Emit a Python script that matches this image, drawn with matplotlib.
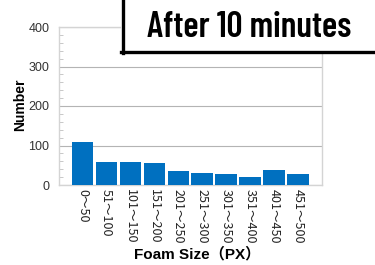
import matplotlib
matplotlib.use("Agg")
import matplotlib.pyplot as plt
from matplotlib.patches import Rectangle
from matplotlib.ticker import MultipleLocator

categories = ["0～50", "51～100", "101～150", "151～200", "201～250",
              "251～300", "301～350", "351～400", "401～450", "451～500"]
values = [108, 59, 57, 56, 35, 31, 29, 20, 37, 28]
yticks = [0, 100, 200, 300, 400]
title = "After 10 minutes"

plt.rcParams['font.family'] = ['Liberation Sans', 'Noto Sans CJK JP', 'DejaVu Sans']

fig = plt.figure(figsize=(3.75, 2.65), dpi=100)
ax = fig.add_axes([59/375, 1-185/265, (322-59)/375, (185-27)/265])

x = list(range(len(categories)))
ax.bar(x, values, width=0.9, color="#0070C0", zorder=3)
ax.set_xlim(-0.98, 10.0)
ax.set_ylim(0, 400)
ax.set_yticks(yticks)
ax.yaxis.set_minor_locator(MultipleLocator(20))
ax.grid(axis='y', color="#b4b4b4", linewidth=0.8, zorder=0)
for s in ax.spines.values():
    s.set_color("#d4d4d4")
    s.set_linewidth(1.0)
ax.tick_params(axis='y', which='major', length=0, labelsize=9, colors="#333333", pad=7)
ax.tick_params(axis='y', which='minor', direction='in', length=3, color="#c8c8c8", width=0.7)
ax.set_xticks(x)
ax.set_xticklabels(categories, rotation=270, fontsize=9, color="#222222",
                   family=['Noto Sans CJK JP', 'DejaVu Sans'])
ax.tick_params(axis='x', length=0, pad=3)
ax.set_ylabel("Number", fontsize=10, fontweight='bold')
ax.yaxis.set_label_coords(-0.122, 0.51)
ax.set_xlabel("Foam Size（PX）", fontsize=11, fontweight='bold',
              family=['Liberation Sans', 'Noto Sans CJK JP', 'DejaVu Sans'])
ax.xaxis.set_label_coords(0.525, -(254 - 185) / 158)
ax.xaxis.label.set_va('center')

# title box
fig.patches.append(Rectangle((121/375, 1-53/265), 1.0, 1.0, transform=fig.transFigure,
                             facecolor='white', edgecolor='none', zorder=5))
fig.lines.append(plt.Line2D([122.5/375, 122.5/375], [1-53/265, 1.0], transform=fig.transFigure,
                            color='black', linewidth=2.4, zorder=6))
fig.lines.append(plt.Line2D([121/375, 1.0], [1-51.5/265, 1-51.5/265], transform=fig.transFigure,
                            color='black', linewidth=2.4, zorder=6))
fig.text(249/375, 1-27.5/265, title, ha='center', va='center', fontsize=25.5,
         fontweight=600, family=['Barlow Condensed', 'Roboto', 'DejaVu Sans'], zorder=7)

fig.savefig("out.png", dpi=100)
